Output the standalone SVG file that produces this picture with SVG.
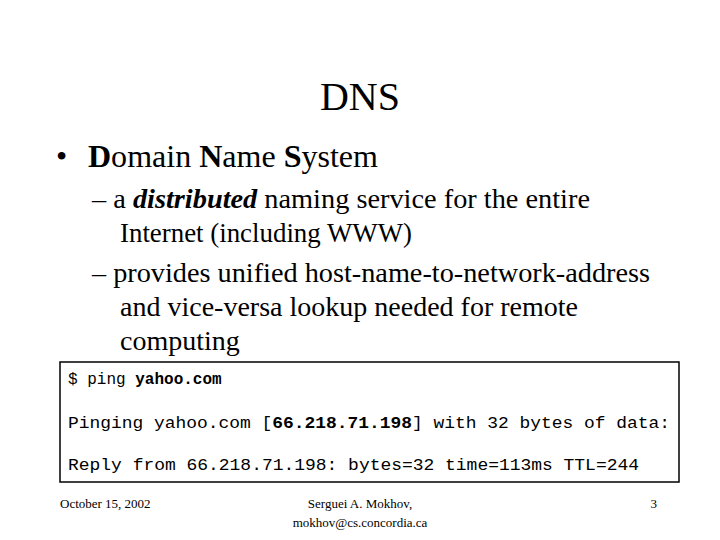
<svg xmlns="http://www.w3.org/2000/svg" width="720" height="540" viewBox="0 0 720 540">
<style>
.s{font-family:"Liberation Serif","Times New Roman",serif;fill:#000}
.m{font-family:"Liberation Mono","Courier New",monospace;font-size:16px;fill:#000}
.f{font-family:"Liberation Serif","Times New Roman",serif;font-size:13px;fill:#000}
</style>
<rect width="720" height="540" fill="#fff"/>
<text class="s" x="360" y="110" font-size="40" text-anchor="middle">DNS</text>
<text class="s" x="56" y="167" font-size="32">•</text>
<text class="s" x="88" y="167" font-size="31" textLength="290" lengthAdjust="spacingAndGlyphs"><tspan font-weight="bold">D</tspan>omain <tspan font-weight="bold">N</tspan>ame <tspan font-weight="bold">S</tspan>ystem</text>
<text class="s" font-size="28" x="92" y="208" textLength="498" lengthAdjust="spacingAndGlyphs">– a <tspan font-weight="bold" font-style="italic">distributed</tspan> naming service for the entire</text>
<text class="s" font-size="28" x="120" y="242" textLength="292" lengthAdjust="spacingAndGlyphs">Internet (including WWW)</text>
<text class="s" font-size="28" x="92" y="282" textLength="558" lengthAdjust="spacingAndGlyphs">– provides unified host-name-to-network-address</text>
<text class="s" font-size="28" x="120" y="316" textLength="458" lengthAdjust="spacingAndGlyphs">and vice-versa lookup needed for remote</text>
<text class="s" font-size="28" x="120" y="350">computing</text>
<rect x="60" y="362" width="619" height="120" fill="#fff" stroke="#000" stroke-width="1.5"/>
<text class="m" x="68" y="384">$ ping <tspan font-weight="bold">yahoo.com</tspan></text>
<text class="m" x="68" y="428" textLength="602" lengthAdjust="spacingAndGlyphs">Pinging yahoo.com [<tspan font-weight="bold">66.218.71.198</tspan>] with 32 bytes of data:</text>
<text class="m" x="68" y="470" textLength="571" lengthAdjust="spacingAndGlyphs">Reply from 66.218.71.198: bytes=32 time=113ms TTL=244</text>
<text class="f" x="60" y="508">October 15, 2002</text>
<text class="f" x="360" y="508" text-anchor="middle">Serguei A. Mokhov,</text>
<text class="f" x="360" y="527" text-anchor="middle">mokhov@cs.concordia.ca</text>
<text class="f" x="657" y="508" text-anchor="end">3</text>
</svg>
